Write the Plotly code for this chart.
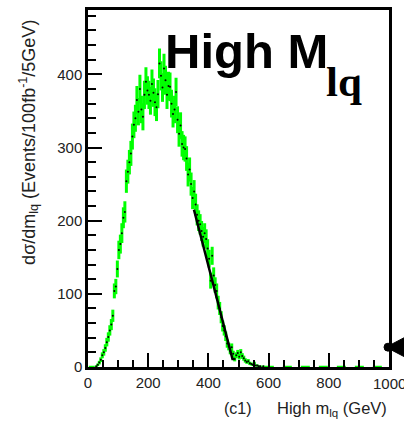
import numpy as np
import plotly.graph_objects as go

# ---- data (5 GeV bins, 0-1000 GeV) ----
bin_width = 5
bin_centers = np.arange(2.5, 1000, bin_width)
counts = [
    0, 0, 0, 0, 0, 1, 3, 6, 10, 16,
    20, 26, 34, 41, 50, 58, 70, 104, 110, 134,
    160, 168, 183, 204, 212, 254, 267, 280, 292, 315,
    331, 340, 365, 349, 380, 352, 342, 372, 390, 378,
    372, 364, 387, 375, 362, 355, 373, 415, 398, 382,
    408, 392, 372, 384, 383, 360, 346, 352, 376, 338,
    319, 330, 305, 300, 298, 285, 263, 270, 250, 231,
    240, 222, 208, 200, 195, 186, 178, 183, 175, 162,
    148, 118, 152, 125, 112, 104, 88, 80, 68, 56,
    50, 42, 32, 28, 22, 27, 18, 11, 16, 19,
    14, 20, 15, 12, 9, 7, 8, 5, 4, 3,
    5, 2, 2, 1, 1, 0, 1, 0, 0, 0,
    0, 0, 0, 0, 0, 0, 0, 0, 0, 0,
    0, 0, 0, 0, 0, 0, 0, 0, 0, 0,
    0, 0, 0, 0, 0, 0, 0, 0, 0, 0,
    0, 0, 0, 0, 0, 0, 0, 0, 0, 0,
    0, 0, 0, 0, 0, 0, 0, 0, 0, 0,
    0, 0, 0, 0, 0, 0, 0, 0, 0, 0,
    0, 0, 0, 0, 0, 0, 0, 0, 0, 0,
    0, 0, 0, 0, 0, 0, 0, 0, 0, 0,
]
fit_x = [352, 480, 487]
fit_y = [215, 11, 11]

x_ticks = [0, 200, 400, 600, 800, 1000]
y_ticks = [0, 100, 200, 300, 400]

counts = np.array(counts, dtype=float)
errors = np.sqrt(counts)
nz = counts > 0

fig = go.Figure()

# zero bins drawn as green dashes on the baseline
fig.add_trace(go.Scatter(
    x=np.where(~nz, bin_centers, np.nan), y=np.where(~nz, counts, np.nan),
    mode="lines", line=dict(color="#00ff00", width=2.5, dash="dash"),
    connectgaps=False, showlegend=False, hoverinfo="skip"))

fig.add_trace(go.Scatter(
    x=bin_centers[nz], y=counts[nz], mode="markers",
    marker=dict(color="black", size=2),
    error_y=dict(type="data", array=errors[nz], color="#00ff00",
                 thickness=3, width=0),
    showlegend=False))

fig.add_trace(go.Scatter(
    x=fit_x, y=fit_y, mode="lines",
    line=dict(color="black", width=2.5), showlegend=False))

font_tick = dict(family="Liberation Sans, Arial", size=15, color="#222")

fig.update_layout(
    width=404, height=427,
    margin=dict(l=88, r=15, t=7, b=60),
    plot_bgcolor="white", paper_bgcolor="white",
    xaxis=dict(range=[0, 1000], tickvals=x_ticks[:-1], ticks="inside",
               ticklen=14, tickwidth=2, tickcolor="black",
               showline=True, linecolor="black", linewidth=2.5, mirror=True,
               showgrid=False, zeroline=False, tickfont=font_tick,
               minor=dict(dtick=50, ticks="inside", ticklen=7,
                          tickwidth=1.5, tickcolor="black", showgrid=False)),
    yaxis=dict(range=[0, 488], tickvals=y_ticks, ticks="inside",
               ticklen=14, tickwidth=2, tickcolor="black",
               showline=True, linecolor="black", linewidth=2.5, mirror=True,
               showgrid=False, zeroline=False, tickfont=font_tick,
               minor=dict(dtick=20, ticks="inside", ticklen=8,
                          tickwidth=1.5, tickcolor="black", showgrid=False)),
    annotations=[
        dict(text=str(x_ticks[-1]), xref="x", yref="paper",
             x=x_ticks[-1], y=(367 - 384) / 360, showarrow=False,
             xanchor="center", yanchor="middle", font=font_tick),
        dict(text="dσ/dm<sub>lq</sub> (Events/100fb<sup>-1</sup>/5GeV)",
             xref="paper", yref="paper", x=(29 - 88) / 301, y=(367 - 141) / 360,
             textangle=-90, showarrow=False, xanchor="center", yanchor="middle",
             font=dict(family="Liberation Sans, Arial", size=18, color="#222")),
        dict(text="(c1)", xref="paper", yref="paper",
             x=(238 - 88) / 301, y=(367 - 409) / 360, showarrow=False,
             xanchor="center", yanchor="middle",
             font=dict(family="Liberation Sans, Arial", size=16, color="#222")),
        dict(text="High m<sub>lq</sub> (GeV)", xref="paper", yref="paper",
             x=(389 - 88) / 301, y=(367 - 409) / 360, showarrow=False,
             xanchor="right", yanchor="middle",
             font=dict(family="Liberation Sans, Arial", size=16.5, color="#222")),
        dict(text="<b>High M</b>", xref="paper", yref="paper",
             x=(163 - 88) / 301, y=(367 - 48) / 360, showarrow=False,
             xanchor="left", yanchor="middle",
             font=dict(family="Liberation Sans, Arial", size=49, color="black")),
        dict(text="<b>lq</b>", xref="paper", yref="paper",
             x=(324 - 88) / 301, y=(367 - 79) / 360, showarrow=False,
             xanchor="left", yanchor="middle",
             font=dict(family="Liberation Serif, Times New Roman", size=43, color="black")),
    ],
    shapes=[
        dict(type="path", xref="paper", yref="paper",
             path="M {} {} L {} {} L {} {} Z".format(
                 (386 - 88) / 301, (367 - 347) / 360,
                 (405 - 88) / 301, (367 - 337) / 360,
                 (405 - 88) / 301, (367 - 357) / 360),
             fillcolor="black", line=dict(color="black", width=1)),
        dict(type="circle", xref="paper", yref="paper",
             x0=(384 - 88) / 301, x1=(392 - 88) / 301,
             y0=(367 - 351) / 360, y1=(367 - 343) / 360,
             fillcolor="black", line=dict(color="black", width=1)),
    ],
)

fig.write_html("out.html")
